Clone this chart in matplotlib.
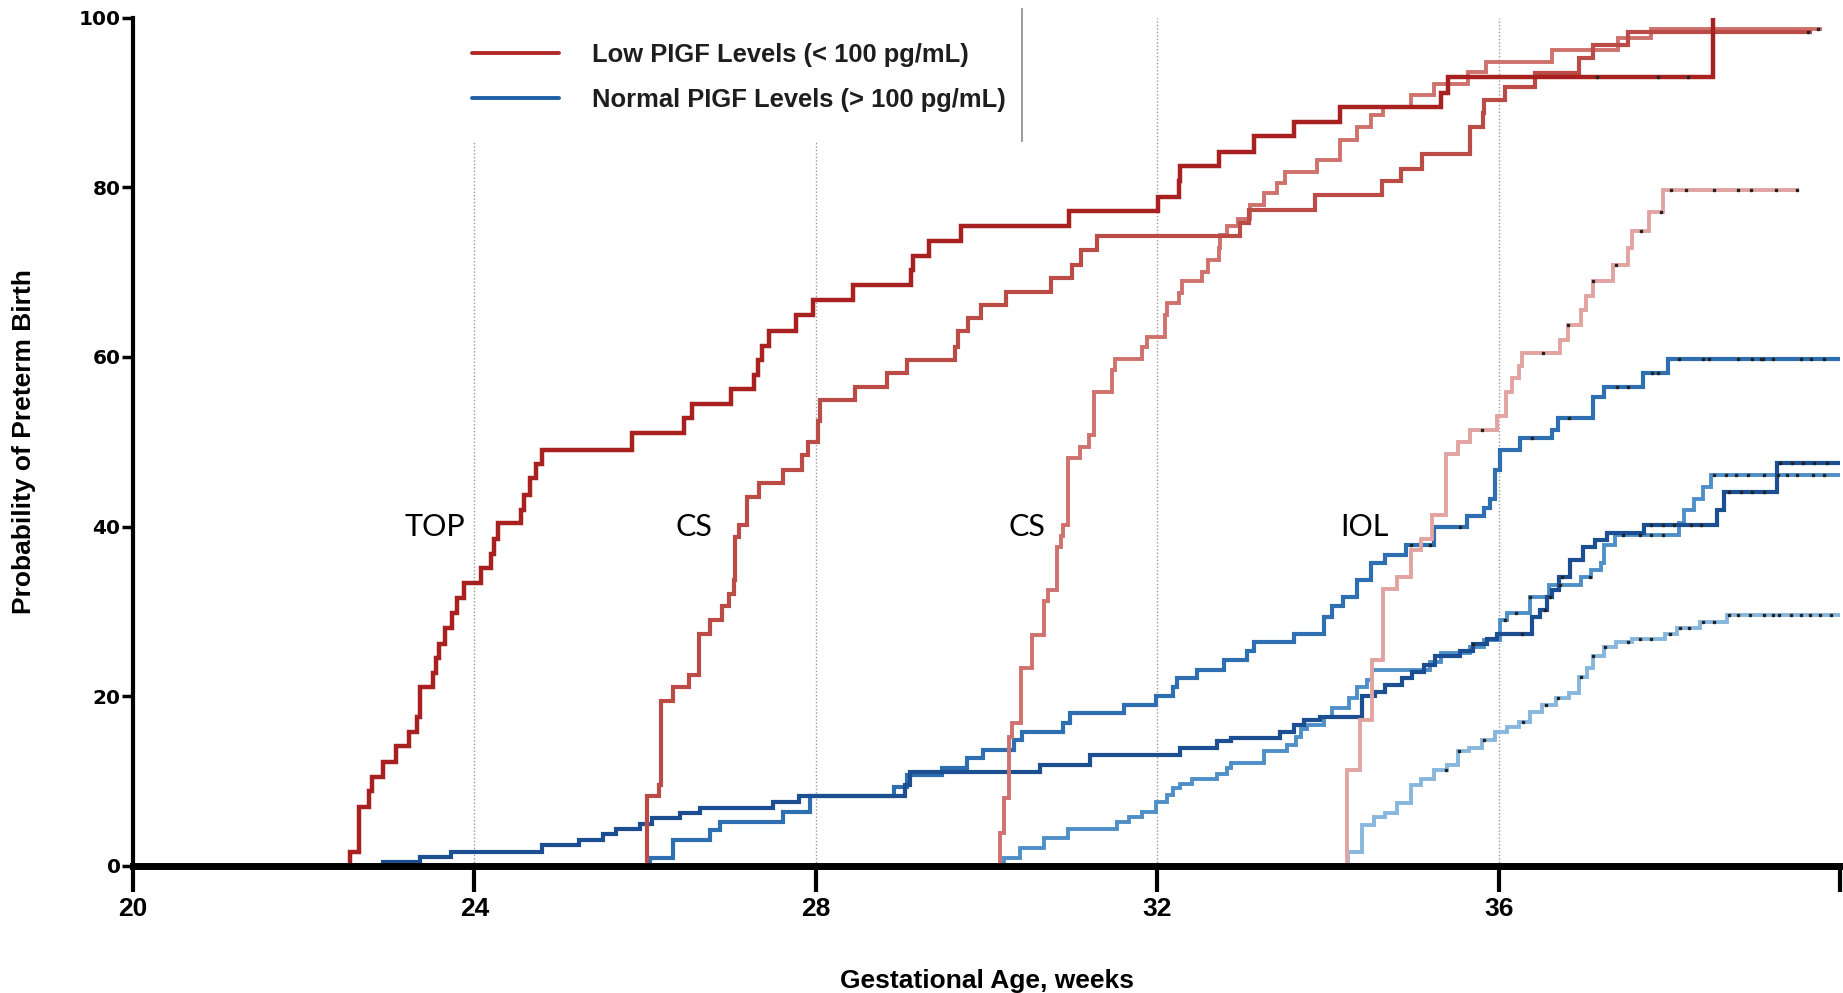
import numpy as np
import matplotlib
matplotlib.use("Agg")
import matplotlib.pyplot as plt
from matplotlib.lines import Line2D
from matplotlib.patches import Rectangle
from matplotlib.font_manager import FontProperties

# ---------------- data (gestational age in weeks, cumulative probability %) ----------------
r1_weeks = [22.45, 22.54, 22.65, 22.76, 22.80, 22.93, 23.08, 23.23, 23.33, 23.36, 23.51, 23.55, 23.58,
            23.66, 23.74, 23.80, 23.88, 24.08, 24.19, 24.23, 24.27, 24.55, 24.58, 24.65, 24.72, 24.79,
            25.85, 26.45, 26.55, 27.00, 27.27, 27.32, 27.37, 27.45, 27.77, 27.97, 28.44, 29.12, 29.14,
            29.32, 29.70, 30.97, 32.01, 32.25, 32.27, 32.72, 33.13, 33.60, 34.14, 35.32, 35.41, 38.51]
r1_values = [0, 1.7, 7.0, 8.8, 10.5, 12.3, 14.1, 15.8, 17.6, 21.1, 22.7, 24.5, 26.2,
             28.0, 29.8, 31.6, 33.3, 35.1, 36.8, 38.6, 40.4, 42.0, 43.7, 45.7, 47.4, 49.0,
             51.0, 52.8, 54.5, 56.2, 57.9, 59.6, 61.3, 63.1, 64.9, 66.7, 68.5, 70.2, 71.9,
             73.7, 75.4, 77.2, 78.9, 80.7, 82.5, 84.2, 86.0, 87.7, 89.5, 91.1, 93.0, 100]

r2_weeks = [25.95, 26.02, 26.16, 26.19, 26.33, 26.51, 26.63, 26.76, 26.90, 26.98, 27.04, 27.05, 27.10,
            27.19, 27.33, 27.62, 27.84, 27.91, 28.03, 28.05, 28.46, 28.83, 29.07, 29.63, 29.66, 29.78,
            29.93, 30.23, 30.76, 31.00, 31.11, 31.29, 32.97, 33.07, 33.85, 34.63, 34.85, 35.10, 35.67,
            35.82, 35.83, 36.08, 36.42, 36.94, 37.11, 37.52, 39.65]
r2_values = [0, 8.2, 9.5, 19.4, 21.1, 22.5, 27.4, 29.0, 30.6, 32.1, 33.7, 38.8, 40.2,
             43.5, 45.1, 46.7, 48.4, 50.0, 52.4, 54.9, 56.5, 58.1, 59.6, 61.2, 63.0, 64.6,
             66.1, 67.7, 69.3, 70.8, 72.6, 74.2, 75.8, 77.3, 79.1, 80.7, 82.2, 83.9, 87.1,
             88.7, 90.3, 91.8, 93.5, 95.2, 96.8, 98.3, 98.3]

r3_weeks = [30.10, 30.16, 30.20, 30.26, 30.30, 30.40, 30.53, 30.67, 30.72, 30.82, 30.87, 30.90, 30.96,
            31.10, 31.20, 31.26, 31.47, 31.51, 31.82, 31.88, 32.09, 32.11, 32.25, 32.29, 32.52, 32.60,
            32.72, 32.74, 32.82, 32.95, 33.09, 33.25, 33.40, 33.50, 33.87, 34.14, 34.34, 34.50, 34.65,
            34.97, 35.24, 35.64, 35.85, 36.63, 37.40, 37.79, 39.77]
r3_values = [0, 3.9, 8.0, 15.2, 16.8, 23.3, 27.2, 31.2, 32.5, 37.6, 38.9, 40.2, 48.1,
             49.4, 50.8, 55.9, 58.5, 59.8, 61.2, 62.4, 64.9, 66.3, 67.5, 68.9, 70.0, 71.4,
             72.8, 74.4, 75.4, 76.3, 77.9, 79.3, 80.5, 81.8, 83.2, 85.6, 87.1, 88.5, 89.5,
             90.9, 92.2, 93.6, 94.8, 96.2, 97.6, 98.6, 98.6]

r4_weeks = [34.12, 34.22, 34.38, 34.52, 34.65, 34.81, 34.97, 35.09, 35.22, 35.38, 35.52, 35.67, 35.98,
            36.09, 36.16, 36.24, 36.27, 36.72, 36.81, 36.96, 37.02, 37.10, 37.34, 37.52, 37.56, 37.76,
            37.92, 39.50]
r4_values = [0, 11.3, 17.2, 24.3, 32.7, 34.1, 37.2, 38.6, 41.4, 48.6, 50.0, 51.4, 53.0,
             55.9, 57.5, 58.9, 60.5, 62.0, 63.8, 65.5, 67.2, 68.9, 70.8, 72.8, 74.9, 77.1,
             79.7, 79.7]

b1_weeks = [22.80, 22.93, 23.36, 23.73, 24.79, 25.22, 25.51, 25.66, 25.94, 26.08, 26.41, 26.64, 27.50,
            27.80, 29.05, 29.10, 30.63, 31.21, 32.27, 32.70, 32.86, 33.44, 33.60, 33.72, 33.91, 34.40,
            34.55, 34.67, 34.87, 34.99, 35.12, 35.26, 35.55, 35.70, 35.86, 35.98, 36.39, 36.49, 36.57,
            36.63, 36.71, 36.84, 36.99, 37.13, 37.27, 37.70, 38.56, 38.64, 39.26, 40.0]
b1_values = [0, 0.5, 1.1, 1.7, 2.5, 3.1, 3.8, 4.4, 5.0, 5.6, 6.2, 6.8, 7.5,
             8.2, 9.6, 11.1, 11.9, 13.1, 13.9, 14.7, 15.1, 15.8, 16.6, 17.2, 17.6, 20.0,
             20.5, 21.3, 22.1, 22.9, 23.7, 24.7, 25.3, 26.2, 26.8, 27.4, 29.4, 30.2, 31.7,
             32.5, 34.1, 36.1, 37.6, 38.4, 39.2, 40.2, 42.0, 44.1, 47.5, 47.5]

b2_weeks = [26.00, 26.06, 26.33, 26.76, 26.88, 27.62, 27.93, 28.91, 29.07, 29.48, 29.77, 29.96, 30.32,
            30.41, 30.90, 30.98, 31.61, 31.98, 32.19, 32.23, 32.46, 32.78, 33.05, 33.13, 33.60, 33.95,
            34.05, 34.18, 34.34, 34.50, 34.67, 34.91, 35.24, 35.63, 35.83, 35.90, 35.96, 36.02, 36.25,
            36.63, 36.69, 37.10, 37.24, 37.69, 37.98, 40.0]
b2_values = [0, 0.9, 3.1, 4.2, 5.2, 6.4, 8.2, 9.3, 10.7, 11.5, 12.7, 13.7, 14.9,
             15.8, 16.8, 18.0, 19.0, 20.0, 21.1, 22.1, 23.1, 24.3, 25.3, 26.4, 27.4, 29.4,
             30.6, 31.7, 33.7, 35.7, 36.7, 37.8, 40.0, 41.2, 42.2, 43.3, 46.7, 49.0, 50.4,
             51.4, 52.8, 55.3, 56.5, 58.1, 59.8, 59.8]

b3_weeks = [30.10, 30.20, 30.39, 30.67, 30.96, 31.53, 31.67, 31.82, 31.98, 32.11, 32.19, 32.27, 32.41,
            32.70, 32.82, 32.86, 33.25, 33.52, 33.62, 33.68, 33.75, 33.95, 34.05, 34.25, 34.34, 34.46,
            34.52, 35.20, 35.32, 35.67, 35.83, 36.02, 36.10, 36.37, 36.59, 36.96, 37.08, 37.20, 37.24,
            37.36, 38.11, 38.17, 38.29, 38.39, 38.49, 40.0]
b3_values = [0, 0.9, 2.1, 3.3, 4.4, 5.2, 5.8, 6.4, 7.6, 8.4, 9.2, 9.7, 10.3,
             10.9, 11.5, 12.1, 13.5, 14.3, 15.2, 16.2, 16.6, 17.6, 18.6, 19.8, 21.1, 21.9,
             23.1, 24.1, 25.1, 25.8, 26.6, 29.0, 29.8, 31.7, 33.1, 34.1, 34.9, 35.7, 37.8,
             39.0, 40.4, 42.0, 43.3, 44.7, 46.1, 46.1]

b4_weeks = [34.12, 34.24, 34.40, 34.54, 34.67, 34.81, 34.97, 35.09, 35.24, 35.40, 35.52, 35.65, 35.81,
            35.96, 36.10, 36.24, 36.37, 36.51, 36.67, 36.82, 36.94, 37.04, 37.10, 37.24, 37.38, 37.56,
            37.95, 38.09, 38.36, 38.67, 40.0]
b4_values = [0, 1.7, 4.8, 5.8, 6.2, 7.4, 9.5, 10.3, 11.3, 11.9, 13.5, 13.9, 14.9,
             15.8, 16.4, 17.0, 18.2, 19.0, 19.8, 20.4, 22.3, 23.3, 24.7, 25.8, 26.4, 26.8,
             27.4, 28.0, 28.8, 29.6, 29.6]

# censoring marks (weeks)
r1_censor = [37.15, 37.87, 38.22]
r2_censor = [39.62]
r3_censor = [39.74]
r4_censor = [35.80, 36.52, 36.81, 37.10, 37.38, 37.67, 37.90, 38.02, 38.20, 38.52, 38.81, 38.96, 39.25, 39.50]
b1_censor = [35.70, 36.27, 36.54, 36.60, 36.74, 37.78, 37.93, 38.05, 38.25, 38.37, 38.70, 38.84, 38.97,
             39.11, 39.30, 39.44, 39.57, 39.69, 39.85]
b2_censor = [34.97, 35.20, 35.55, 36.39, 36.82, 37.39, 37.51, 37.80, 37.87, 38.11, 38.40, 38.46, 38.81,
             38.97, 39.07, 39.10, 39.22, 39.54, 39.66, 39.81]
b3_censor = [36.08, 36.20, 36.37, 36.72, 37.07, 37.46, 37.66, 37.78, 37.93, 38.52, 38.66, 38.78, 38.92,
             39.11, 39.27, 39.38, 39.50, 39.68, 39.81]
b4_censor = [35.38, 35.53, 35.83, 36.28, 36.55, 36.70, 36.96, 37.10, 37.25, 37.51, 37.66, 37.78, 38.01,
             38.13, 38.23, 38.40, 38.52, 38.70, 38.81, 38.95, 39.11, 39.22, 39.28, 39.42, 39.54, 39.65,
             39.77, 39.89]

annot_labels = ["TOP", "CS", "CS", "IOL"]
annot_weeks = [23.53, 26.57, 30.47, 34.43]
annot_value = 40

legend_labels = ["Low PIGF Levels (< 100 pg/mL)", "Normal PIGF Levels (> 100 pg/mL)"]
x_ticks = [20, 24, 28, 32, 36, 40]
x_ticklabels = ["20", "24", "28", "32", "36", ""]
y_ticks = [0, 20, 40, 60, 80, 100]
grid_weeks = [24, 28, 32, 36]

# ---------------- figure ----------------
fig = plt.figure(figsize=(18.43, 9.93), dpi=100)
ax = fig.add_axes([0.0722, 0.1279, 0.9262, 0.8544])
ax.set_xlim(20, 40)
ax.set_ylim(0, 100)

for g in grid_weeks:
    ax.axvline(g, color="#9a9a9a", lw=1.0, ls=(0, (1, 1.5)), zorder=1)

# legend background box
ax.add_patch(Rectangle((0.18, 0.855), 0.341, 0.16, transform=ax.transAxes,
                       facecolor="white", edgecolor="none", zorder=2, clip_on=False))
ax.add_line(Line2D([0.5208, 0.5208], [0.855, 1.01], transform=ax.transAxes,
                   color="#8a8a8a", lw=1.2, zorder=3, clip_on=False))

curves = [
    (b4_weeks, b4_values, b4_censor, "#88b7de", 2.8),
    (b3_weeks, b3_values, b3_censor, "#4f8fc8", 2.8),
    (b2_weeks, b2_values, b2_censor, "#2d6fb1", 3.0),
    (b1_weeks, b1_values, b1_censor, "#1c4f92", 3.0),
    (r4_weeks, r4_values, r4_censor, "#e2a4a0", 2.8),
    (r3_weeks, r3_values, r3_censor, "#cf716c", 2.8),
    (r2_weeks, r2_values, r2_censor, "#bb4b46", 3.0),
    (r1_weeks, r1_values, r1_censor, "#a8201f", 3.2),
]
for wk, vals, cens, col, lw in curves:
    wk = np.asarray(wk)
    vals = np.asarray(vals)
    ax.step(wk, vals, where="post", color=col, lw=lw, zorder=4, solid_joinstyle="miter")
    cens = np.asarray(cens)
    idx = np.searchsorted(wk, cens, side="right") - 1
    ax.plot(cens, vals[idx], ls="none", marker="s", ms=1.5, color="#222222", zorder=5)

for lab, wk in zip(annot_labels, annot_weeks):
    ax.text(wk, annot_value, lab, ha="center", va="center", fontsize=22,
            family=["Lato", "DejaVu Sans"], color="black", zorder=6)

# legend
handles = [Line2D([], [], color="#b02a2a", lw=2.8, solid_capstyle="round"),
           Line2D([], [], color="#1f5fa8", lw=2.8, solid_capstyle="round")]
leg = ax.legend(handles, legend_labels, loc="upper left", bbox_to_anchor=(0.1986, 0.970),
                frameon=False, handlelength=3.4, handletextpad=1.3, labelspacing=0.82,
                borderpad=0, borderaxespad=0,
                prop=FontProperties(family=["Liberation Sans", "DejaVu Sans"], weight="bold", size=18.4))
for t in leg.get_texts():
    t.set_color("#1e1e1e")
leg.set_zorder(7)

# spines & ticks
for s in ["top", "right"]:
    ax.spines[s].set_visible(False)
ax.spines["left"].set_linewidth(3.0)
ax.spines["bottom"].set_linewidth(5.0)
ax.spines["left"].set_zorder(8)
ax.spines["bottom"].set_zorder(8)

ax.set_xticks(x_ticks)
ax.set_xticklabels(x_ticklabels)
ax.set_yticks(y_ticks)
ax.tick_params(axis="x", direction="out", length=19, width=3, pad=3)
ax.tick_params(axis="y", direction="out", length=8, width=2.5, pad=1)
for lbl in ax.get_xticklabels():
    lbl.set_fontproperties(FontProperties(family=["Liberation Sans Narrow", "Liberation Sans"], weight="bold", size=19))
for lbl in ax.get_yticklabels():
    lbl.set_fontproperties(FontProperties(family=["DejaVu Sans"], weight="bold", size=14.5))

ax.set_xlabel("Gestational Age, weeks", labelpad=35,
              fontproperties=FontProperties(family=["Liberation Sans Narrow", "Liberation Sans"], weight="bold", size=19))
ax.set_ylabel("Probability of Preterm Birth", labelpad=31,
              fontproperties=FontProperties(family=["Liberation Sans Narrow", "Liberation Sans"], weight="bold", size=19))

fig.savefig("out.png", dpi=100, facecolor="white")
